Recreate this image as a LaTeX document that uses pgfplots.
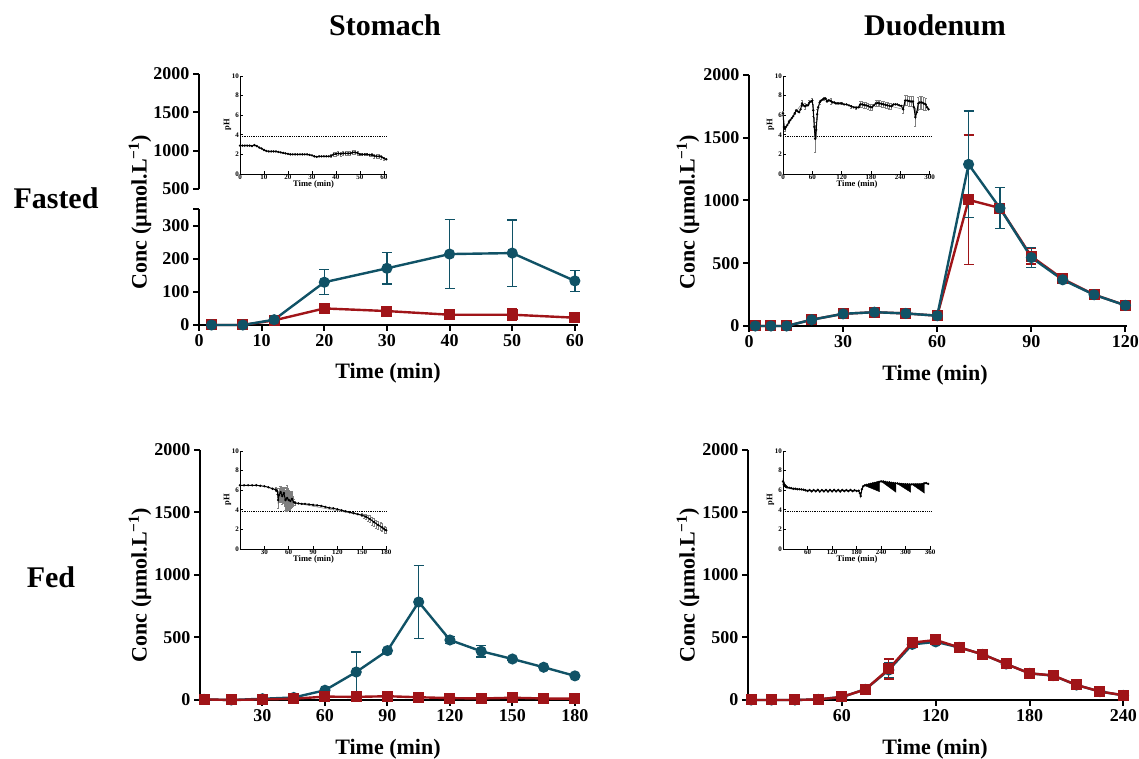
\documentclass[border=0pt]{standalone}
\usepackage{fontspec}
\setmainfont{Liberation Serif}
\usepackage{pgfplots}
\pgfplotsset{compat=1.18}
\definecolor{tealc}{RGB}{16,82,102}
\definecolor{redc}{RGB}{160,20,24}

\pgfplotsset{
  mainax/.style={scale only axis, axis lines=left, axis line style={-, line width=2.4pt},
    tick style={black, line width=2pt}, major tick length=6pt, tick align=outside,
    ticklabel style={font=\fontsize{18}{20}\selectfont\bfseries},
    /pgf/number format/assume math mode=true, /pgf/number format/1000 sep={},
    clip=false},
  inset/.style={scale only axis, axis lines=left, axis line style={-, line width=0.8pt},
    tick style={black, line width=0.6pt}, major tick length=2.5pt, tick align=inside,
    ticklabel style={font=\fontsize{7}{8}\selectfont\bfseries, inner sep=1pt},
    /pgf/number format/assume math mode=true,
    ymin=0, ymax=10, ytick={0,2,...,10}, height=98pt,
    xlabel={Time (min)}, ylabel={pH},
    label style={font=\fontsize{8.5}{9}\selectfont\bfseries},
    xlabel style={yshift=4pt}, ylabel style={yshift=-4pt},
    clip=false},
  phline/.style={black, line width=1pt, mark=*, mark size=0.6pt},
  pherr/.style={black!50, line width=0.5pt, mark=none, error bars/.cd, y dir=both, y explicit,
    error bar style={black!50, line width=0.5pt}, error mark options={rotate=90, black!50, mark size=1pt, line width=0.5pt}},
  tealser/.style={color=tealc, line width=2.4pt, mark=*, mark size=4.3pt, mark options={solid, fill=tealc},
    error bars/.cd, y dir=both, y explicit, error bar style={line width=1.3pt, tealc},
    error mark options={rotate=90, tealc, mark size=5pt, line width=1.3pt}},
  redser/.style={color=redc, line width=2.4pt, mark=square*, mark size=4.3pt, mark options={solid, fill=redc},
    error bars/.cd, y dir=both, y explicit, error bar style={line width=1.3pt, redc},
    error mark options={rotate=90, redc, mark size=5pt, line width=1.3pt}},
}

\begin{document}
\begin{tikzpicture}
\useasboundingbox (0,0) rectangle (1139pt,759pt);

% ---------- Fasted / Stomach (broken axis) ----------
\begin{axis}[mainax, at={(199pt,570pt)}, anchor=south west, width=379pt, height=115pt,
  axis x line=none, xmin=0, xmax=60.5, ymin=500, ymax=2000, ytick={500,1000,1500,2000}]
\end{axis}
\begin{axis}[mainax, at={(199pt,434pt)}, anchor=south west, width=379pt, height=116pt,
  xmin=0, xmax=60.5, ymin=0, ymax=350, xtick={0,10,...,60}, ytick={0,100,200,300},
  extra y ticks={350}, extra y tick labels={}]
\addplot[redser] table[x index=0, y index=1, y error index=2] {
2 0 0
7 0 0
12 14 3
20 50 10
30 42 8
40 31 15
50 31 17
60 22 5
};
\addplot[tealser] table[x index=0, y index=1, y error index=2] {
2 0 0
7 0 0
12 16 3
20 129 38
30 171 47
40 214 104
50 217 100
60 133 32
};
\end{axis}

% ---------- Fasted / Duodenum ----------
\begin{axis}[mainax, at={(749pt,433pt)}, anchor=south west, width=378pt, height=251pt,
  xmin=0, xmax=120.5, ymin=0, ymax=2000, xtick={0,30,...,120}, ytick={0,500,...,2000}]
\addplot[redser] table[x index=0, y index=1, y error index=2] {
2 0 0
7 0 0
12 0 0
20 50 5
30 97 8
40 110 10
50 100 8
60 82 8
70 1005 516
80 940 163
90 555 60
100 375 20
110 250 10
120 165 10
};
\addplot[tealser] table[x index=0, y index=1, y error index=2] {
2 0 0
7 0 0
12 0 0
20 50 5
30 97 8
40 110 10
50 100 8
60 82 8
70 1288 425
80 939 164
90 545 80
100 368 20
110 249 10
120 164 10
};
\end{axis}

% ---------- Fed / Stomach ----------
\begin{axis}[mainax, at={(200pt,59pt)}, anchor=south west, width=377pt, height=250pt,
  xmin=0, xmax=181, ymin=0, ymax=2000, xtick={30,60,...,180}, ytick={0,500,...,2000}]
\addplot[tealser] table[x index=0, y index=1, y error index=2] {
2 5 0
15 0 0
30 10 3
45 20 5
60 78 8
75 224 160
90 395 10
105 784 290
120 480 30
135 390 47
150 328 8
165 262 8
180 193 8
};
\addplot[redser] table[x index=0, y index=1, y error index=2] {
2 5 0
15 0 0
30 5 2
45 10 3
60 27 5
75 25 5
90 30 5
105 22 4
120 15 3
135 12 3
150 18 4
165 12 3
180 10 2
};
\end{axis}

% ---------- Fed / Duodenum ----------
\begin{axis}[mainax, at={(748pt,59pt)}, anchor=south west, width=377pt, height=250pt,
  xmin=0, xmax=241, ymin=0, ymax=2000, xtick={60,120,...,240}, ytick={0,500,...,2000}]
\addplot[tealser] table[x index=0, y index=1, y error index=2] {
2 0 0
15 0 0
30 0 0
45 5 2
60 24 5
75 85 10
90 240 60
105 445 15
120 465 10
135 421 10
150 365 8
165 288 8
180 213 8
195 195 8
210 120 8
225 67 5
240 37 5
};
\addplot[redser] table[x index=0, y index=1, y error index=2] {
2 0 0
15 0 0
30 0 0
45 5 2
60 24 5
75 85 10
90 248 80
105 459 10
120 480 10
135 421 8
150 365 8
165 288 8
180 213 8
195 197 8
210 120 6
225 68 5
240 38 5
};
\end{axis}

% ---------- pH insets ----------
\begin{axis}[inset, at={(240pt,585pt)}, anchor=south west, width=147pt,
  xmin=0, xmax=61.3, xtick={0,10,...,60}]
\addplot[black, densely dotted, line width=0.8pt] coordinates {(0,3.8) (61.3,3.8)};
\addplot[pherr] table[x index=0, y index=1, y error index=2] {
38 1.85 0.15
39 2.0 0.2
40 2.05 0.2
41 2.1 0.2
42 2.05 0.2
43 2.1 0.2
44 2.1 0.2
45 2.1 0.2
46 2.1 0.2
47 2.2 0.2
48 2.2 0.2
49 2.15 0.2
50 2.0 0.12
51 2.0 0.1
52 2.0 0.1
53 2.0 0.1
54 1.95 0.1
55 1.95 0.12
56 1.85 0.2
57 1.8 0.2
58 1.8 0.2
59 1.75 0.2
60 1.6 0.15
};
\addplot[phline] table {
0 2.9
1 2.9
2 2.9
3 2.9
4 2.9
5 2.85
6 2.95
7 2.85
8 2.7
9 2.6
10 2.45
11 2.35
12 2.3
13 2.3
14 2.3
15 2.3
16 2.25
17 2.2
18 2.15
19 2.1
20 2.05
21 2.0
22 2.0
23 2.0
24 2.0
25 2.0
26 2.0
27 2.0
28 2.0
29 1.95
30 1.9
31 1.8
32 1.75
33 1.8
34 1.8
35 1.8
36 1.8
37 1.8
38 1.85
39 2.0
40 2.05
41 2.1
42 2.05
43 2.1
44 2.1
45 2.1
46 2.1
47 2.2
48 2.2
49 2.15
50 2.0
51 2.0
52 2.0
53 2.0
54 1.95
55 1.95
56 1.85
57 1.8
58 1.8
59 1.75
60 1.6
61 1.5
};
\end{axis}

\begin{axis}[inset, at={(783pt,585pt)}, anchor=south west, width=148pt,
  xmin=0, xmax=303, xtick={0,60,...,300}]
\addplot[black, densely dotted, line width=0.8pt] coordinates {(0,3.8) (303,3.8)};
\addplot[pherr] table[x index=0, y index=1, y error index=2] {
0 6.2 0.2
4 4.6 0.2
12 5.3 0.15
24 6.2 0.15
39 7.2 0.3
45 6.9 0.3
54 7.3 0.2
60 7.5 0.2
62 6.5 0.6
64 4.8 1.0
66 3.6 1.4
68 4.5 0.8
70 6.1 0.5
75 7.3 0.2
84 7.7 0.15
99 7.4 0.3
120 7.2 0.1
140 6.9 0.15
150 6.75 0.15
158 7.1 0.3
162 7.1 0.3
166 7.05 0.3
170 7.0 0.3
174 6.95 0.3
178 6.85 0.3
182 6.8 0.3
190 7.2 0.3
194 7.25 0.3
198 7.2 0.3
202 7.15 0.3
206 7.1 0.3
210 7.05 0.3
214 7.0 0.3
218 6.95 0.3
222 6.9 0.3
246 6.6 0.4
250 7.5 0.5
254 7.5 0.5
258 7.45 0.5
262 7.4 0.5
266 7.4 0.5
271 5.8 0.9
277 7.2 0.65
280 7.3 0.65
284 7.3 0.65
288 7.2 0.65
292 7.1 0.6
};
\addplot[phline] table {
0 6.2
2 4.8
4 4.6
6 4.8
9 5.0
12 5.3
15 5.5
18 5.7
21 5.9
24 6.2
27 6.5
30 6.4
33 6.3
36 6.6
39 7.2
42 7.0
45 6.9
48 7.0
51 7.0
54 7.3
57 7.4
60 7.5
62 6.5
64 4.8
66 3.6
68 4.5
70 6.1
72 6.8
75 7.3
78 7.5
81 7.6
84 7.7
87 7.7
90 7.4
93 7.5
96 7.5
99 7.4
102 7.3
105 7.3
108 7.2
111 7.2
114 7.2
117 7.2
120 7.2
125 7.1
130 7.1
135 7.0
140 6.9
145 6.8
150 6.75
155 6.8
158 7.1
162 7.1
166 7.05
170 7.0
174 6.95
178 6.85
182 6.8
186 7.0
190 7.2
194 7.25
198 7.2
202 7.15
206 7.1
210 7.05
214 7.0
218 6.95
222 6.9
226 7.1
230 7.1
234 7.1
238 7.0
242 6.95
246 6.6
250 7.5
254 7.5
258 7.45
262 7.4
266 7.4
268 6.8
271 5.8
274 6.3
277 7.2
280 7.3
284 7.3
288 7.2
292 7.1
295 6.8
298 6.6
};
\end{axis}

\begin{axis}[inset, at={(240pt,210pt)}, anchor=south west, width=147pt,
  xmin=0, xmax=181, xtick={30,60,...,180}]
\addplot[black, densely dotted, line width=0.8pt] coordinates {(0,3.8) (181,3.8)};
\addplot[pherr] table[x index=0, y index=1, y error index=2] {
44 6.05 0.2
46 5.9 0.3
47 5.0 0.8
48 5.5 0.7
49 5.6 0.8
50 5.8 0.5
51 5.6 0.8
52 5.4 0.8
53 5.5 0.8
54 5.7 0.6
55 5.3 0.9
56 5.0 1.0
57 5.1 1.2
58 5.2 1.3
59 5.1 1.1
60 5.0 1.0
61 4.95 0.9
62 4.9 0.9
63 5.0 0.8
64 5.1 0.8
65 4.9 0.5
66 4.8 0.3
68 4.7 0.2
150 3.45 0.15
153 3.35 0.2
155 3.3 0.25
158 3.15 0.3
160 3.05 0.35
163 2.85 0.4
165 2.75 0.4
168 2.55 0.4
170 2.45 0.4
173 2.3 0.4
175 2.2 0.4
178 2.0 0.35
180 1.9 0.3
};
\addplot[phline] table {
0 6.5
5 6.5
10 6.5
15 6.5
20 6.5
25 6.45
30 6.4
35 6.3
40 6.15
44 6.05
46 5.9
47 5.0
48 5.5
50 5.8
52 5.4
54 5.7
56 5.0
58 5.2
60 5.0
62 4.9
64 5.1
66 4.8
68 4.7
72 4.65
76 4.6
80 4.6
85 4.55
90 4.5
95 4.45
100 4.4
105 4.3
110 4.2
115 4.15
120 4.05
125 3.95
130 3.85
135 3.75
140 3.65
145 3.55
150 3.45
155 3.3
160 3.05
165 2.75
170 2.45
175 2.2
178 2.0
180 1.9
};
\end{axis}

\begin{axis}[inset, at={(783pt,210pt)}, anchor=south west, width=148pt,
  xmin=0, xmax=362, xtick={60,120,...,360}]
\addplot[black, densely dotted, line width=0.8pt] coordinates {(0,3.8) (362,3.8)};
\addplot[black, fill=black, line width=0.4pt] coordinates {(0,7.1) (5,6.6) (10,6.4) (10,6.2) (5,6.3) (0,6.5)} -- cycle;
\addplot[black, fill=black, line width=0.4pt] coordinates {(198,6.5) (236,6.87) (236,5.85)} -- cycle;
\addplot[black, fill=black, line width=0.4pt] coordinates {(240,6.9) (276,6.7) (276,5.8)} -- cycle;
\addplot[black, fill=black, line width=0.4pt] coordinates {(278,6.7) (312,6.6) (312,5.8)} -- cycle;
\addplot[black, fill=black, line width=0.4pt] coordinates {(315,6.6) (346,6.65) (346,5.7)} -- cycle;
\addplot[phline] table {
0 6.9
2 6.6
4 6.45
7 6.35
10 6.3
15 6.25
20 6.2
25 6.15
30 6.15
35 6.1
40 6.1
45 6.08
50 6.05
55 6.0
60 5.92
65 6.02
70 5.88
75 6.02
80 5.88
85 6.04
90 5.86
95 6.02
100 5.88
105 6.03
110 5.87
115 6.02
120 5.88
125 6.03
130 5.88
135 6.02
140 5.87
145 6.03
150 5.9
155 6.02
160 5.9
165 6.03
170 5.9
175 6.0
180 5.92
185 5.95
188 5.7
190 5.4
193 6.1
196 6.4
200 6.5
205 6.55
210 6.6
215 6.65
220 6.7
225 6.75
230 6.8
235 6.85
240 6.9
245 6.9
250 6.85
255 6.8
260 6.8
265 6.75
270 6.72
275 6.7
280 6.7
285 6.65
290 6.62
295 6.6
300 6.6
305 6.6
310 6.6
315 6.6
320 6.6
325 6.6
330 6.6
335 6.6
340 6.62
345 6.7
350 6.72
355 6.65
};
\end{axis}

% ---------- titles and labels ----------
\begin{scope}[every node/.style={font=\fontsize{30}{32}\selectfont\bfseries}]
\node at (385pt,734pt) {Stomach};
\node at (935pt,734pt) {Duodenum};
\node at (56pt,561pt) {Fasted};
\node at (51pt,182pt) {Fed};
\end{scope}
\begin{scope}[every node/.style={font=\fontsize{22}{24}\selectfont\bfseries}]
\node[rotate=90] at (140pt,547pt) {Conc (µmol.L\textsuperscript{−1})};
\node[rotate=90] at (688pt,547pt) {Conc (µmol.L\textsuperscript{−1})};
\node[rotate=90] at (140pt,174pt) {Conc (µmol.L\textsuperscript{−1})};
\node[rotate=90] at (688pt,174pt) {Conc (µmol.L\textsuperscript{−1})};
\node at (388pt,386pt) {Time (min)};
\node at (935pt,384pt) {Time (min)};
\node at (388pt,10pt) {Time (min)};
\node at (935pt,10pt) {Time (min)};
\end{scope}
\end{tikzpicture}
\end{document}
